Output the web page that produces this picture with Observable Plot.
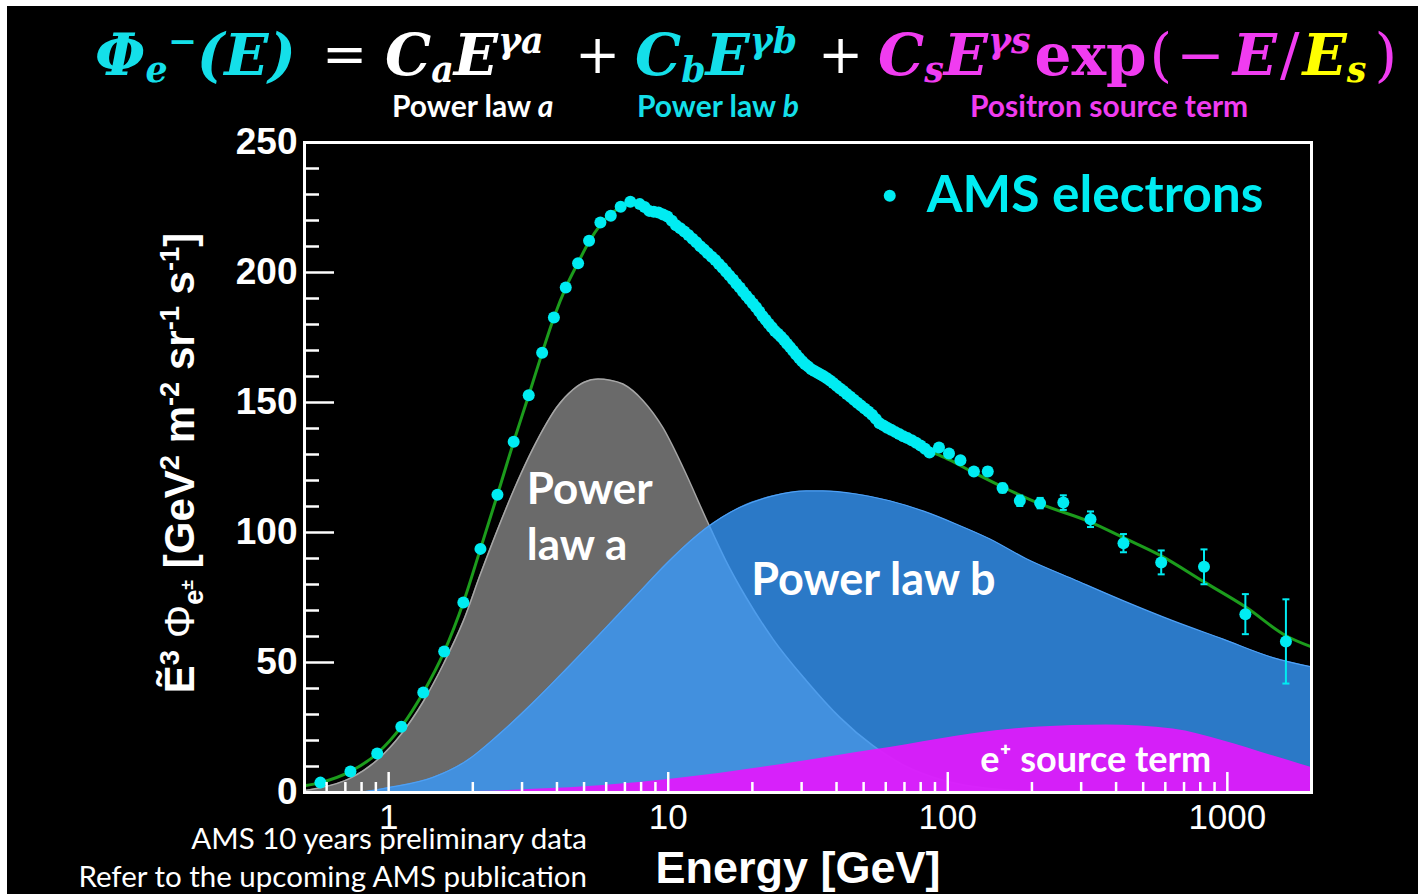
<!DOCTYPE html>
<html>
<head>
<meta charset="utf-8">
<script src="https://cdn.jsdelivr.net/npm/d3@7"></script>
<script src="https://cdn.jsdelivr.net/npm/@observablehq/plot@0.6"></script>
<style>
html, body { margin:0; padding:0; width:1418px; height:894px; overflow:hidden; background:#fff; }
#bg { position:absolute; left:7px; top:6px; right:0; bottom:0; background:#000; }
#chart { position:absolute; left:0; top:0; }
.abs { position:absolute; white-space:nowrap; }
.f { font-family:"DejaVu Serif"; font-weight:bold; font-style:italic; font-size:58px; line-height:58px; }
.op { font-family:"DejaVu Serif"; font-weight:normal; font-style:normal; font-size:54px; line-height:58px; color:#fff; }
.sb { font-size:0.6em; position:relative; top:0.2em; }
.sp { font-size:0.6em; position:relative; top:-0.62em; }
.up { font-style:normal; }
.thin { font-weight:normal; font-style:normal; }
.lab { font-family:"Lato"; font-weight:bold; font-size:30px; line-height:30px; }
.cap { font-family:"Lato"; font-weight:normal; font-size:29.5px; line-height:38px; color:#fff; text-align:right; }
#ytitle { left:182px; top:463px; transform:translate(-50%,-50%) rotate(-90deg); font-family:"Liberation Sans"; font-weight:bold; font-size:42px; line-height:48px; color:#fff; }
#ytitle sup, #ytitle sub { font-size:0.65em; }
</style>
</head>
<body>
<div id="bg"></div>
<div id="chart"></div>

<div class="abs f" style="left:95px;top:26px;color:#14dfe9">Φ<span class="sb">e</span><span class="sp">−</span>(E)</div>
<div class="abs op" style="left:322px;top:26px">=</div>
<div class="abs f" style="left:385px;top:26px;color:#fff">C<span class="sb">a</span>E<span class="sp">γa</span></div>
<div class="abs op" style="left:575px;top:26px">+</div>
<div class="abs f" style="left:635px;top:26px;color:#14dfe9">C<span class="sb">b</span>E<span class="sp">γb</span></div>
<div class="abs op" style="left:818px;top:26px">+</div>
<div class="abs f" style="left:878px;top:26px;color:#f03cf0">C<span class="sb">s</span>E<span class="sp">γs</span><span class="up" style="margin-left:4px">exp</span><span class="thin" style="margin-left:3px">(</span><span class="thin" style="margin-left:4px;margin-right:8px">−</span>E<span class="thin" style="margin:0 3px">/</span><span style="color:#ffff00">E<span class="sb">s</span></span><span class="thin" style="margin-left:8px">)</span></div>

<div class="abs lab" style="left:392px;top:90px;color:#fff">Power law <i>a</i></div>
<div class="abs lab" style="left:637px;top:90px;color:#14dfe9">Power law <i>b</i></div>
<div class="abs lab" style="left:970px;top:90px;color:#f03cf0">Positron source term</div>

<div class="abs" id="ytitle">Ẽ<sup>3</sup> <span style="font-weight:normal">Φ</span><sub>e<sup>±</sup></sub> [GeV<sup>2</sup> m<sup>-2</sup> sr<sup>-1</sup> s<sup>-1</sup>]</div>

<div class="abs cap" style="right:831px;top:819px">AMS 10 years preliminary data<br>Refer to the upcoming AMS publication</div>

<script>
// ---- AMS electron data (E [GeV], E^3 flux, error) ----
const dataE = [0.57, 0.73, 0.91, 1.11, 1.33, 1.58, 1.85, 2.13, 2.45, 2.80, 3.17, 3.54, 3.90, 4.30, 4.76, 5.21, 5.72, 6.23, 6.76, 7.32, 7.91,
  8.23, 8.55, 8.88, 9.23, 9.58, 9.93, 10.3, 10.66, 11.04, 11.42, 11.81, 12.21, 12.61, 13.02, 13.44, 13.86, 14.3, 14.73, 15.18, 15.63,
  16.1, 16.56, 17.04, 17.52, 18.02, 18.52, 19.03, 19.55, 20.08, 20.62, 21.17, 21.73, 22.3, 22.88, 23.47, 24.07, 24.68, 25.30, 25.95,
  26.6, 27.27, 27.96, 28.67, 29.4, 30.14, 30.9, 31.69, 32.5, 33.34, 34.2, 35.09, 36.0, 36.94, 37.9, 38.93, 40.0, 41.13, 42.3, 43.53,
  44.8, 46.13, 47.5, 48.93, 50.4, 51.98, 53.6, 55.28, 57.0, 58.82, 60.7, 62.72, 64.8, 67.0, 69.3, 71.75, 74.3, 77.05, 79.9, 82.9,
  86, 93, 101, 111, 124, 139, 157, 181, 214, 259, 324, 425, 580, 825, 1160, 1620];
const dataFlux = [3.8, 8.1, 15.0, 25.3, 38.5, 54.2, 73.1, 93.7, 114.5, 134.9, 152.8, 169.1, 182.7, 194.2, 203.6, 212.2, 219.2, 221.8, 225.3, 227.2, 226.3,
  225.2, 223.7, 223.4, 223.1, 222.3, 221.5, 219.9, 218.2, 217.0, 215.8, 214.4, 213.0, 211.6, 210.1, 208.8, 207.4, 206.1, 204.8, 203.3, 201.8,
  200.3, 198.8, 197.3, 195.7, 194.2, 192.6, 191.1, 189.6, 188.1, 186.6, 185.0, 183.3, 181.8, 180.3, 178.9, 177.5, 176.4, 175.3, 174.0,
  172.6, 171.3, 169.9, 168.5, 167.1, 165.9, 164.7, 163.8, 162.8, 162.1, 161.4, 160.8, 160.1, 159.3, 158.5, 157.5, 156.4, 155.4, 154.4, 153.3,
  152.2, 151.1, 149.9, 148.8, 147.7, 146.5, 145.3, 143.7, 142.0, 141.2, 140.3, 139.5, 138.7, 137.9, 137.0, 136.3, 135.5, 134.5, 133.5, 132.2,
  130.8, 132.7, 130.4, 127.8, 123.5, 123.5, 117.1, 112.2, 111.3, 111.5, 105.1, 95.9, 88.5, 86.8, 68.6, 58.1];
const highErr = [1.0, 1.0, 1.1, 1.2, 1.3, 1.5, 1.7, 2.0, 2.0, 2.8, 3.0, 3.5, 4.6, 6.7, 7.7, 16.2];

// ---- total fit (green) ----
const fitE = [0.5, 0.57, 0.73, 0.91, 1.11, 1.33, 1.58, 1.85, 2.13, 2.45, 2.8, 3.17, 3.54, 3.9, 4.3, 4.76, 5.21, 5.72, 6.23, 6.76, 7.32, 7.91, 8.55, 9.23, 10, 11.4, 13, 15.6, 18.5, 22.9, 27.96, 32.5, 40, 50.4, 60.7, 74.3, 86, 101, 124, 157, 214, 324, 425, 580, 825, 1160, 1620, 2000];
const fitFlux = [2.6, 3.8, 8.1, 15, 25.3, 38.5, 54.2, 73.1, 93.7, 114.5, 134.9, 152.8, 169.1, 182.7, 194.2, 203.8, 211.8, 218.3, 222.5, 225.1, 226.4, 226.3, 225.2, 223.4, 221, 216, 210.2, 201.8, 192.6, 180.3, 170, 163.2, 156.4, 147.7, 140.6, 135, 131.5, 128, 123, 117.5, 111, 104, 98, 91, 81, 71.4, 60.3, 56];

// ---- power law a (gray) ----
const aE = [0.5, 0.57, 0.73, 0.91, 1.11, 1.33, 1.58, 1.85, 2.13, 2.45, 2.82, 3.17, 3.56, 3.98, 4.57, 5.0, 5.61, 6.2, 6.89, 8.13, 9.56, 11.3, 13.7, 16.1, 19.0, 23.7, 31.2, 41, 54, 71, 94, 123, 160, 213, 300, 2000];
const aFlux = [0.8, 1.8, 5.5, 12.5, 22.5, 35, 50, 66, 84, 101, 117, 129, 139.5, 148, 155, 157.8, 159, 158.6, 157.1, 150.7, 140.4, 125, 105, 89, 75, 59, 43, 29, 18, 10, 5, 2.3, 1, 0.3, 0, 0];

// ---- power law b (blue) ----
const bE = [0.5, 0.8, 1.0, 1.44, 1.90, 2.49, 3.28, 4.32, 5.69, 7.49, 10.4, 13.6, 18.0, 23.7, 31.2, 35.8, 47.0, 61.9, 81.5, 107.4, 141.5, 190.9, 280.3, 425.5, 640.5, 965, 1453, 2000];
const bFlux = [0, 0.3, 1.9, 5.8, 12.2, 22.5, 34.5, 47.5, 60.9, 74.5, 90.5, 101.5, 109.6, 114.1, 116.0, 116.0, 114.8, 112.2, 108.3, 103.2, 97.5, 89.9, 82.1, 73.7, 66.0, 59.0, 51.9, 48.3];

// ---- positron source term (magenta) ----
const sE = [0.5, 2.0, 3.47, 5.69, 10.4, 23.7, 41.1, 54.0, 71.2, 93.6, 123, 213, 369, 640, 965, 1453, 2000];
const sFlux = [0, 0.4, 1.3, 2.6, 5.2, 10.3, 14.3, 16.3, 18.4, 20.6, 22.6, 25.2, 26.0, 24.4, 19.9, 14.1, 9.6];

// ---- ticks ----
const xMajor = [1, 10, 100, 1000];
const xMinor = [0.6, 0.7, 0.8, 0.9, 2, 3, 4, 5, 6, 7, 8, 9, 20, 30, 40, 50, 60, 70, 80, 90, 200, 300, 400, 500, 600, 700, 800, 900];
const yMajor = [0, 50, 100, 150, 200, 250];
const yMinor = [10, 20, 30, 40, 60, 70, 80, 90, 110, 120, 130, 140, 160, 170, 180, 190, 210, 220, 230, 240];

const zip = (xs, ys) => xs.map((x, i) => ({E: x, v: ys[i]}));
const points = zip(dataE, dataFlux);
const nLow = dataE.length - highErr.length;
const bars = highErr.map((err, i) => ({...points[nLow + i], err})).filter(d => d.err >= 1.5);
const fit = zip(fitE, fitFlux);
const lawA = zip(aE, aFlux);
const lawB = zip(bE, bFlux);
const src = zip(sE, sFlux);

const cyan = "#00ecf2";
const capSymbol = { draw(ctx, size) { const w = Math.sqrt(size / Math.PI); ctx.moveTo(-w, 0); ctx.lineTo(w, 0); } };

const W = 1418, H = 894, ML = 304, MR = 107, MT = 142, MB = 102;
const PW = W - ML - MR, PH = H - MT - MB;

const chart = Plot.plot({
  width: W, height: H,
  marginLeft: ML, marginRight: MR, marginTop: MT, marginBottom: MB,
  style: { background: "transparent", color: "white", fontFamily: "Liberation Sans", overflow: "visible" },
  x: { type: "log", domain: [0.5, 2000], axis: null },
  y: { domain: [0, 250], axis: null },
  marks: [
    Plot.areaY(lawA, { x: "E", y: "v", fill: "#6a6a6a", curve: "monotone-x" }),
    Plot.lineY(lawA, { x: "E", y: "v", stroke: "#a6a6a6", strokeWidth: 1.5, curve: "monotone-x" }),
    Plot.areaY(lawB, { x: "E", y: "v", fill: "rgb(55,155,255)", fillOpacity: 0.78, curve: "monotone-x" }),
    Plot.lineY(lawB, { x: "E", y: "v", stroke: "rgb(78,160,245)", strokeWidth: 1.2, curve: "monotone-x" }),
    Plot.areaY(src, { x: "E", y: "v", fill: "rgb(228,24,252)", fillOpacity: 0.92, curve: "monotone-x" }),
    Plot.lineY(fit, { x: "E", y: "v", stroke: "#1c9c1c", strokeWidth: 3, curve: "monotone-x" }),
    Plot.ruleX(bars, { x: "E", y1: d => d.v - d.err, y2: d => d.v + d.err, stroke: cyan, strokeWidth: 2 }),
    Plot.dot(bars, { x: "E", y: d => d.v + d.err, symbol: capSymbol, r: 3.5, stroke: cyan, strokeWidth: 2, fill: "none" }),
    Plot.dot(bars, { x: "E", y: d => d.v - d.err, symbol: capSymbol, r: 3.5, stroke: cyan, strokeWidth: 2, fill: "none" }),
    Plot.dot(points, { x: "E", y: "v", r: 6, fill: cyan }),
    // in-plot labels
    Plot.text(["Power\nlaw a"], { x: 3.12, y: 107.2, text: d => d, textAnchor: "start", lineAnchor: "middle", lineHeight: 1.27, fontSize: 44, fontWeight: "bold", fontFamily: "Lato", fill: "white" }),
    Plot.text(["Power law b"], { x: 54.2, y: 81.4, text: d => d, textAnchor: "middle", fontSize: 45, fontWeight: "bold", fontFamily: "Lato", fill: "white" }),
    Plot.text(["e⁺ source term"], { x: 338, y: 12.2, text: d => d, textAnchor: "middle", fontSize: 36, fontWeight: "bold", fontFamily: "Lato", fill: "white" }),
    // legend
    Plot.dot([0], { x: 62, y: 229.5, r: 6, fill: cyan }),
    Plot.text(["AMS electrons"], { x: 84.1, y: 229.5, text: d => d, textAnchor: "start", fontSize: 51.5, fontWeight: "bold", fontFamily: "Lato", fill: cyan }),
    // frame + inward ticks
    Plot.frame({ stroke: "white", strokeWidth: 3 }),
    Plot.tickX(xMajor, { x: d => d, stroke: "white", strokeWidth: 2.5, insetTop: PH - 20 }),
    Plot.tickX(xMinor, { x: d => d, stroke: "white", strokeWidth: 2.5, insetTop: PH - 10 }),
    Plot.tickY(yMajor, { y: d => d, stroke: "white", strokeWidth: 2.5, insetRight: PW - 30 }),
    Plot.tickY(yMinor, { y: d => d, stroke: "white", strokeWidth: 2.5, insetRight: PW - 15 }),
    // tick labels
    Plot.axisX({ ticks: xMajor, tickSize: 0, tickPadding: 12, fontSize: 35, fontFamily: "Liberation Sans", fill: "white", tickFormat: d => String(d), label: null }),
    Plot.axisY({ ticks: yMajor, tickSize: 0, tickPadding: 7, fontSize: 37, fontWeight: "bold", fontFamily: "Liberation Sans", fill: "white", tickFormat: d => String(d), label: null }),
    // x title
    Plot.text(["Energy [GeV]"], { frameAnchor: "bottom", dy: 90, dx: -10, text: d => d, lineAnchor: "bottom", fontSize: 45, fontWeight: "bold", fontFamily: "Liberation Sans", fill: "white" })
  ]
});
document.getElementById("chart").appendChild(chart);
</script>
</body>
</html>
